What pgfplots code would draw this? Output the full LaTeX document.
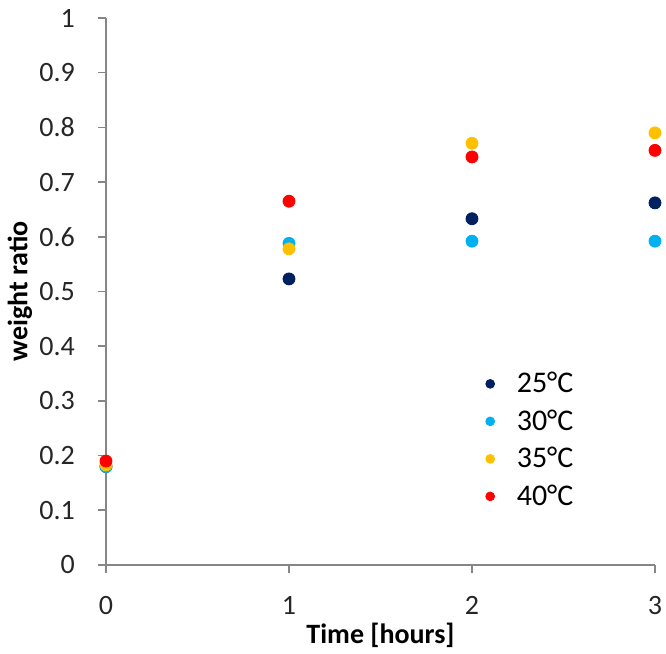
\documentclass[border=0pt]{standalone}
\usepackage{pgfplots}
\pgfplotsset{compat=1.18}
\usepackage{fontspec}
\setmainfont{Carlito}
\definecolor{c25}{HTML}{002060}
\definecolor{c30}{HTML}{00B0F0}
\definecolor{c35}{HTML}{FFC000}
\definecolor{c40}{HTML}{FF0000}
\definecolor{axgray}{HTML}{868686}
\begin{document}
\begin{tikzpicture}
\begin{axis}[
  scale only axis,
  width=274.5pt, height=273.5pt,
  xmin=0, xmax=3, ymin=0, ymax=1,
  axis x line=bottom, axis y line=left,
  axis line style={-, draw=axgray, line width=1pt},
  clip=false,
  xtick={0,1,2,3}, ytick={0,0.1,...,1.0},
  tick align=outside,
  major tick length=4pt,
  tick style={draw=axgray, line width=0.8pt},
  /pgf/number format/assume math mode=true,
  /pgf/number format/fixed,
  ticklabel style={font=\fontsize{14}{16}\selectfont, text=black!85},
  yticklabel style={xshift=-8pt},
  xticklabel style={yshift=-8pt},
  xlabel={\textbf{Time [hours]}},
  ylabel={\textbf{weight ratio}},
  label style={font=\fontsize{14}{16}\selectfont},
  xlabel style={at={(axis description cs:0.5,-0.128)}, anchor=center},
  ylabel style={at={(axis description cs:-0.157,0.5)}, anchor=center},
  legend style={at={(axis description cs:0.675,0.368)}, anchor=north west, draw=none, fill=none,
    font=\fontsize{15}{18}\selectfont, row sep=3pt, legend cell align=left},
  legend image code/.code={\path (-0.12cm,0cm) (0.39cm,0cm); \draw[mark size=2.2pt] plot coordinates {(0cm,0cm)};},
]
\addplot[only marks, mark=*, mark size=3pt, color=c25] coordinates {(0,0.180) (1,0.523) (2,0.633) (3,0.662)};
\addlegendentry{25°C}
\addplot[only marks, mark=*, mark size=3pt, color=c30] coordinates {(0,0.180) (1,0.588) (2,0.592) (3,0.592)};
\addlegendentry{30°C}
\addplot[only marks, mark=*, mark size=3pt, color=c35] coordinates {(0,0.183) (1,0.578) (2,0.771) (3,0.790)};
\addlegendentry{35°C}
\addplot[only marks, mark=*, mark size=3pt, color=c40] coordinates {(0,0.190) (1,0.665) (2,0.746) (3,0.758)};
\addlegendentry{40°C}
\end{axis}
\pgfresetboundingbox
\useasboundingbox (-53pt,-44.5pt) rectangle (280pt,282.5pt);
\end{tikzpicture}
\end{document}
